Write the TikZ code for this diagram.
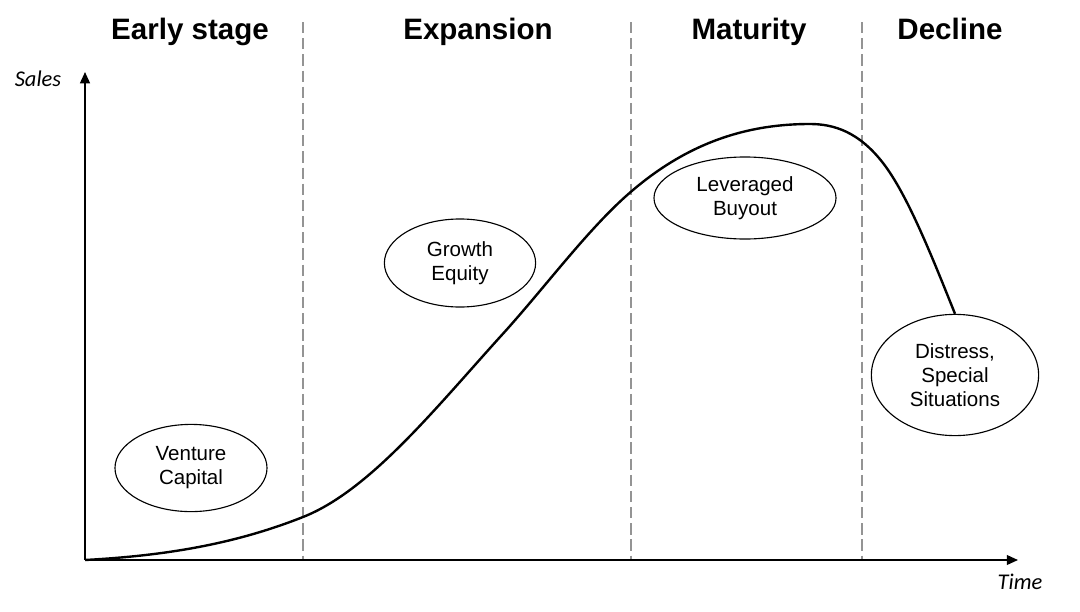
\documentclass[tikz,border=0pt]{standalone}
\usepackage{fontspec}
\setmainfont{Liberation Sans}
\newfontfamily\axisfont{Carlito}
\usetikzlibrary{positioning, arrows.meta, shapes.geometric}

\begin{document}
\begin{tikzpicture}[x=0.025cm,y=-0.025cm,
	stage/.style={font=\bfseries\fontsize{21}{25}\selectfont,anchor=base},
	deal/.style={draw,ellipse,inner sep=0pt,line width=0.8pt,align=center,
		font=\fontsize{14.6}{17}\selectfont},
	axis/.style={line width=1.1pt,-{Triangle[length=8pt,width=7pt]}},
	divider/.style={draw=black!42,line width=0.9pt,dash pattern=on 8pt off 3.5pt},
	curve/.style={line width=1.7pt,line join=round}]
	
	\useasboundingbox (0,0) rectangle (1080,612);
	
	%Stage titles
	\node[stage] (early) at (190,39) {Early stage};
	\node[stage] (expan) at (478,39) {Expansion};
	\node[stage] (matur) at (749,39) {Maturity};
	\node[stage] (decl)  at (950,39) {Decline};
	
	%Stage dividers
	\foreach \x in {303,631,862}
	\draw[divider] (\x,22) -- (\x,560);
	
	%Axes
	\coordinate (o) at (85,560);
	\coordinate (ytop) at (85,72);
	\coordinate (xend) at (1018,560);
	\draw[axis] (o) -- (ytop);
	\draw[axis] (o) -- (xend);
	\node[font=\axisfont\itshape\fontsize{16}{19}\selectfont] (sales) at (38,79) {Sales};
	\node[font=\axisfont\itshape\fontsize{16}{19}\selectfont] (time) at (1020,582) {Time};
	
	%Financing types
	\node[deal,minimum width=3.8cm,minimum height=2.18cm] (vc) at (191,468) {Venture\\Capital};
	\node[deal,minimum width=3.78cm,minimum height=2.2cm] (ge) at (460,263) {Growth\\Equity};
	\node[deal,minimum width=4.55cm,minimum height=2.05cm] (lbo) at (745,198) {Leveraged\\Buyout};
	\node[deal,minimum width=4.18cm,minimum height=3.03cm] (dist) at (955,375) {Distress,\\Special\\Situations};
	
	%Sales curve
	\draw[curve] (o) .. controls (158,556) and (230,546) .. (303,517)
		.. controls (369,491) and (434,410) .. (500,337)
		.. controls (544,289) and (589,227) .. (633,190)
		.. controls (692,140) and (751,124) .. (810,124)
		.. controls (834,124) and (859,132) .. (883,163)
		.. controls (907,194) and (931,254) .. (dist.north);
	
\end{tikzpicture}
\end{document}
